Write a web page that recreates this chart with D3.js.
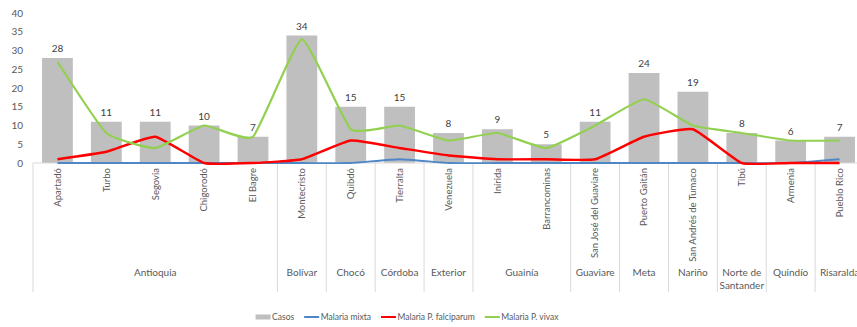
<!DOCTYPE html>
<html>
<head>
<meta charset="utf-8">
<script src="https://cdn.jsdelivr.net/npm/d3@7"></script>
<style>
  body { margin: 0; background: #fff; }
  svg { display: block; font-family: Lato, "Open Sans", sans-serif; }
</style>
</head>
<body>
<div id="chart-area"></div>
<script>

const municipios = ["Apartadó", "Turbo", "Segovia", "Chigorodó", "El Bagre",
  "Montecristo", "Quibdó", "Tierralta", "Venezuela", "Inírida", "Barrancominas",
  "San José del Guaviare", "Puerto Gaitán", "San Andrés de Tumaco", "Tibú",
  "Armenia", "Pueblo Rico"];

const departamentos = ["Antioquia", "Antioquia", "Antioquia", "Antioquia", "Antioquia",
  "Bolívar", "Chocó", "Córdoba", "Exterior", "Guainía", "Guainía",
  "Guaviare", "Meta", "Nariño", "Norte de Santander", "Quindío", "Risaralda"];

const casos      = [28, 11, 11, 10, 7, 34, 15, 15, 8, 9, 5, 11, 24, 19, 8, 6, 7];
const mixta      = [0, 0, 0, 0, 0, 0, 0, 1, 0, 0, 0, 0, 0, 0, 0, 0, 1];
const falciparum = [1, 3, 7, 0, 0, 1, 6, 4, 2, 1, 1, 1, 7, 9, 0, 0, 0];
const vivax      = [27, 8, 4, 10, 7, 33, 9, 10, 6, 8, 4, 10, 17, 10, 8, 6, 6];

const yTicks = [0, 5, 10, 15, 20, 25, 30, 35, 40];

const series = [
  { name: "Malaria mixta", values: mixta, color: "#4f86c6", width: 1.8 },
  { name: "Malaria P. falciparum", values: falciparum, color: "#ff0000", width: 2.4 },
  { name: "Malaria P. vivax", values: vivax, color: "#92d050", width: 2.2 }
];

const W = 857, H = 327;
const plotLeft = 33, plotRight = 864, plotTop = 13, plotBottom = 163, axisBottom = 292;

const svg = d3.select('#chart-area').append('svg')
  .attr('width', W)
  .attr('height', H);

const x = d3.scaleBand()
  .domain(municipios)
  .range([plotLeft, plotRight])
  .paddingInner(0.37)
  .paddingOuter(0.185);

const y = d3.scaleLinear()
  .domain([0, 40])
  .range([plotBottom, plotTop]);

const step = x.step();
const cx = d => x(d) + x.bandwidth() / 2;

// y axis labels only, no line or ticks
const yAxis = svg.append('g')
  .attr('transform', `translate(${plotLeft - 10},0)`)
  .call(d3.axisLeft(y).tickValues(yTicks).tickSize(0).tickPadding(0));
yAxis.select('.domain').remove();
yAxis.selectAll('text')
  .attr('fill', '#595959')
  .style('font-size', '10px')
  .style('font-family', 'Lato, sans-serif');

// bars
svg.append('g').selectAll('rect')
  .data(municipios)
  .enter().append('rect')
    .attr('x', d => x(d))
    .attr('y', (d, i) => y(casos[i]))
    .attr('width', x.bandwidth())
    .attr('height', (d, i) => y(0) - y(casos[i]))
    .attr('fill', '#bfbfbf');

// baseline
svg.append('line')
  .attr('x1', plotLeft).attr('x2', plotRight)
  .attr('y1', y(0)).attr('y2', y(0))
  .attr('stroke', '#d9d9d9');

// group separators
const groups = [];
departamentos.forEach((dep, i) => {
  const last = groups[groups.length - 1];
  if (last && last.name === dep) last.end = i;
  else groups.push({ name: dep, start: i, end: i });
});

const edge = i => x(municipios[i]) - step * x.paddingInner() / 2;
const sepX = groups.map(g => edge(g.start)).concat([plotRight]);

svg.append('g').selectAll('line')
  .data(sepX)
  .enter().append('line')
    .attr('x1', d => d).attr('x2', d => d)
    .attr('y1', y(0)).attr('y2', axisBottom)
    .attr('stroke', '#d9d9d9');

// municipality labels, rotated
svg.append('g').selectAll('text')
  .data(municipios)
  .enter().append('text')
    .attr('transform', d => `translate(${cx(d)},${y(0) + 5}) rotate(-90)`)
    .attr('text-anchor', 'end')
    .attr('dy', '0.35em')
    .attr('fill', '#595959')
    .style('font-size', '9.5px')
    .text(d => d);

// department labels, wrapped to the group width
const groupText = svg.append('g').selectAll('text')
  .data(groups)
  .enter().append('text')
    .attr('x', g => (edge(g.start) + edge(g.end) + step) / 2)
    .attr('y', 276)
    .attr('text-anchor', 'middle')
    .attr('fill', '#595959')
    .style('font-size', '10px');

groupText.each(function(g) {
  const el = d3.select(this);
  const maxW = (g.end - g.start + 1) * step - 2;
  const words = g.name.split(' ');
  let lines = [], line = [];
  const probe = el.append('tspan');
  words.forEach(w => {
    const trial = line.concat([w]).join(' ');
    probe.text(trial);
    if (line.length && probe.node().getComputedTextLength() > maxW) {
      lines.push(line.join(' '));
      line = [w];
    } else {
      line.push(w);
    }
  });
  lines.push(line.join(' '));
  probe.remove();
  const gx = el.attr('x');
  lines.forEach((t, k) => {
    el.append('tspan').attr('x', gx).attr('dy', k ? 13 : 0).text(t);
  });
});

// lines, lightly smoothed
const lineGen = vals => d3.line()
  .x((d, i) => cx(municipios[i]))
  .y(d => y(d))
  .curve(d3.curveCardinal.tension(0.6))(vals);

svg.append('g').selectAll('path')
  .data(series)
  .enter().append('path')
    .attr('d', s => lineGen(s.values))
    .attr('fill', 'none')
    .attr('stroke', s => s.color)
    .attr('stroke-width', s => s.width)
    .attr('stroke-linejoin', 'round');

// value labels
svg.append('g').selectAll('text')
  .data(municipios)
  .enter().append('text')
    .attr('x', d => cx(d))
    .attr('y', (d, i) => y(casos[i]) - 6)
    .attr('text-anchor', 'middle')
    .attr('fill', '#404040')
    .style('font-size', '10px')
    .text((d, i) => casos[i]);

// legend
const legendItems = [{ name: "Casos", color: "#bfbfbf", bar: true }].concat(series);
const legend = svg.append('g');
let lx = 0;
legendItems.forEach(item => {
  const g = legend.append('g').attr('transform', `translate(${lx},0)`);
  if (item.bar) {
    g.append('rect').attr('x', 0).attr('y', -2.5).attr('width', 15).attr('height', 5)
      .attr('fill', item.color);
  } else {
    g.append('line').attr('x1', 0).attr('x2', 15).attr('y1', 0).attr('y2', 0)
      .attr('stroke', item.color).attr('stroke-width', 2);
  }
  const t = g.append('text')
    .attr('x', 16.5)
    .attr('dy', '0.35em')
    .attr('fill', '#595959')
    .style('font-size', '8.5px')
    .text(item.name);
  lx += 16.5 + t.node().getComputedTextLength() + 10;
});
const legendW = lx - 10;
legend.attr('transform', `translate(${407 - legendW / 2},317)`);

</script>
</body>
</html>
